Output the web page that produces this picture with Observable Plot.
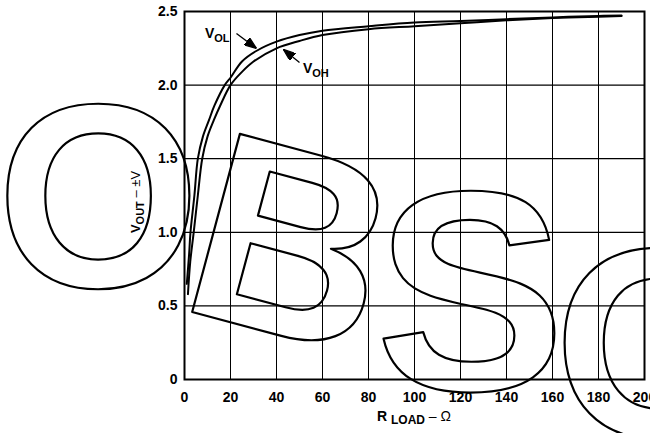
<!DOCTYPE html>
<html><head><meta charset="utf-8">
<script src="https://cdn.jsdelivr.net/npm/d3@7"></script>
<script src="https://cdn.jsdelivr.net/npm/@observablehq/plot@0.6"></script>
<style>
body{margin:0;background:#fff}
svg{display:block}
</style>
</head><body><div id="chart"></div>
<script>
// R_LOAD (ohms) and V_OUT (±V)
const rLoadOL = [1, 2, 2.6, 4.3, 5.8, 8, 10.6, 13, 17.5, 20, 25, 31.6, 40, 50, 60, 80, 100, 120, 140, 160, 180, 190];
const vOL     = [0.65, 0.85, 1.0, 1.25, 1.5, 1.65, 1.76, 1.86, 2.0, 2.05, 2.16, 2.235, 2.295, 2.34, 2.37, 2.40, 2.425, 2.435, 2.448, 2.46, 2.47, 2.472];
const rLoadOH = [1.5, 2.5, 4, 5.8, 7.7, 10, 12.7, 15.5, 20, 25, 30, 40, 50, 60, 80, 100, 120, 140, 160, 180, 190];
const vOH     = [0.58, 0.8, 1.0, 1.25, 1.5, 1.65, 1.76, 1.86, 2.0, 2.09, 2.16, 2.25, 2.30, 2.34, 2.38, 2.40, 2.42, 2.44, 2.455, 2.465, 2.47];

const xTicks = [0, 20, 40, 60, 80, 100, 120, 140, 160, 180, 200];
const yTicks = [0, 0.5, 1, 1.5, 2, 2.5];
const yTickLabels = ["0", "0.5", "1.0", "1.5", "2.0", "2.5"];

const curveLabels = [
  {main: "V", sub: "OL", x: 9.1, y: 2.317},
  {main: "V", sub: "OH", x: 51.7, y: 2.08}
];
const arrows = [
  {x1: 22.6, y1: 2.35, x2: 31.3, y2: 2.249},
  {x1: 50, y1: 2.154, x2: 43, y2: 2.242}
];
const watermark = [
  {letter: "O", x: -37.4, y: 1.20, rotate: 0, size: 262},
  {letter: "B", x: 46.1, y: 0.883, rotate: 15, size: 268},
  {letter: "S", x: 124.3, y: 0.55, rotate: 0, size: 285},
  {letter: "O", x: 206.1, y: 0.2, rotate: 0, size: 270}
];

const curves = [
  ...rLoadOL.map((r, i) => ({r, v: vOL[i], series: "VOL"})),
  ...rLoadOH.map((r, i) => ({r, v: vOH[i], series: "VOH"}))
];

const arrowHead = (color, context) => {
  const m = d3.create("svg:marker")
    .attr("viewBox", "0 0 12 9").attr("refX", 12).attr("refY", 4.5)
    .attr("markerUnits", "userSpaceOnUse")
    .attr("markerWidth", 12).attr("markerHeight", 9).attr("orient", "auto");
  m.append("path").attr("d", "M0,0L12,4.5L0,9Z").attr("fill", color);
  return m.node();
};

const FONT = "'Liberation Sans', Arial, Helvetica, sans-serif";

const plot = Plot.plot({
  width: 650, height: 433,
  marginLeft: 184, marginRight: 6, marginTop: 11, marginBottom: 54,
  style: {fontFamily: FONT, background: "#fff", color: "#000"},
  x: {domain: [0, 200], label: null},
  y: {domain: [0, 2.5], label: null},
  marks: [
    Plot.gridX(xTicks.slice(1, -1), {stroke: "#000", strokeOpacity: 1, strokeWidth: 1}),
    Plot.gridY(yTicks.slice(1, -1), {stroke: "#000", strokeOpacity: 1, strokeWidth: 1.2}),
    Plot.text(watermark, {x: "x", y: "y", text: "letter", rotate: "rotate", fontSize: "size",
      fontWeight: "bold", fontFamily: FONT,
      fill: "none", stroke: "#000", strokeWidth: 2.2,
      textAnchor: "middle", lineAnchor: "middle"}),
    Plot.frame({stroke: "#000", strokeWidth: 2}),
    Plot.axisX(xTicks, {tickSize: 0, tickPadding: 13, fontSize: 14, fontWeight: "bold", label: null}),
    Plot.axisY(yTicks, {tickSize: 0, tickPadding: 7, fontSize: 14, fontWeight: "bold", label: null,
      tickFormat: d => yTickLabels[yTicks.indexOf(d)]}),
    Plot.line(curves, {x: "r", y: "v", z: "series", curve: "catmull-rom", stroke: "#000", strokeWidth: 2}),
    Plot.link(arrows, {x1: "x1", y1: "y1", x2: "x2", y2: "y2", stroke: "#000", strokeWidth: 1.3, markerEnd: arrowHead})
  ]
});

document.getElementById("chart").append(plot);

const sx = plot.scale("x"), sy = plot.scale("y");
const svg = d3.select(plot);

// curve labels with subscripts
for (const l of curveLabels) {
  const t = svg.append("text")
    .attr("x", sx.apply(l.x)).attr("y", sy.apply(l.y))
    .attr("text-anchor", "start")
    .attr("font-family", FONT).attr("font-weight", "bold").attr("font-size", 14).attr("fill", "#000");
  t.append("tspan").text(l.main);
  t.append("tspan").attr("font-size", 11).attr("dy", 4).text(l.sub);
}

// x axis title
const xt = svg.append("text")
  .attr("x", (sx.range[0] + sx.range[1]) / 2).attr("y", 421)
  .attr("text-anchor", "middle").attr("font-family", FONT).attr("fill", "#000");
xt.append("tspan").attr("font-weight", "bold").attr("font-size", 14).text("R ");
xt.append("tspan").attr("font-weight", "bold").attr("font-size", 12).attr("dy", 3).text("LOAD");
xt.append("tspan").attr("font-size", 14).attr("dy", -3).text(" – Ω");

// y axis title
const yt = svg.append("text")
  .attr("transform", `translate(140,${(sy.range[0] + sy.range[1]) / 2 + 7}) rotate(-90)`)
  .attr("text-anchor", "middle").attr("font-family", FONT).attr("fill", "#000");
yt.append("tspan").attr("font-weight", "bold").attr("font-size", 13).text("V");
yt.append("tspan").attr("font-weight", "bold").attr("font-size", 11).attr("dy", 4).text("OUT");
yt.append("tspan").attr("font-size", 13).attr("dy", -4).text(" – ±V");
</script>
</body></html>
